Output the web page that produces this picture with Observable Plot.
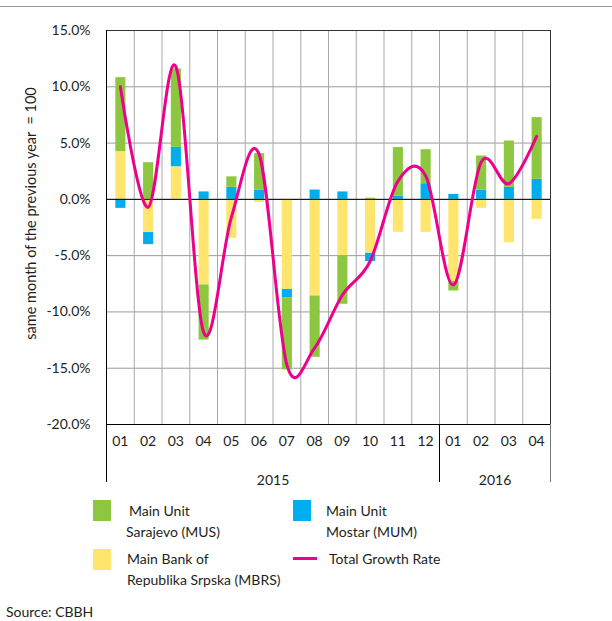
<!DOCTYPE html>
<html><head><meta charset="utf-8">
<script src="https://cdn.jsdelivr.net/npm/d3@7"></script>
<script src="https://cdn.jsdelivr.net/npm/@observablehq/plot@0.6"></script>
<style>
body{margin:0;background:#fff;font-family:Lato,sans-serif;}
#wrap{position:relative;width:612px;height:621px;overflow:hidden;background:#fff;}
#topline{position:absolute;left:0;top:6px;width:612px;height:0;border-top:1px solid #9a9a9a;}
#chart{position:absolute;left:0;top:0;}
.lg{position:absolute;font-size:14px;line-height:21px;color:#231f20;white-space:nowrap;}
.sw{position:absolute;width:18px;height:21px;}
.ln{position:absolute;width:24px;height:3px;}
</style></head><body>
<div id="wrap">
  <div id="topline"></div>
  <div id="chart"></div>
  <div class="sw" style="left:93px;top:500px;background:#8DC63F"></div>
  <div class="lg" style="left:129px;top:500px">Main Unit</div>
  <div class="lg" style="left:126px;top:521px">Sarajevo (MUS)</div>
  <div class="sw" style="left:293px;top:500px;background:#00AEEF"></div>
  <div class="lg" style="left:326px;top:500px">Main Unit</div>
  <div class="lg" style="left:326px;top:521px">Mostar (MUM)</div>
  <div class="sw" style="left:93px;top:549px;background:#FFE46E"></div>
  <div class="lg" style="left:127px;top:548px">Main Bank of</div>
  <div class="lg" style="left:127px;top:569px">Republika Srpska (MBRS)</div>
  <div class="ln" style="left:293px;top:557px;background:#EC008C"></div>
  <div class="lg" style="left:329px;top:548px">Total Growth Rate</div>
  <div class="lg" style="left:6px;top:601px">Source: CBBH</div>
</div>
<script>
const months = ["01","02","03","04","05","06","07","08","09","10","11","12","01","02","03","04"];
const years  = [2015,2015,2015,2015,2015,2015,2015,2015,2015,2015,2015,2015,2016,2016,2016,2016];
const mbrs  = [4.24,-2.95,2.9,-7.6,-3.46,-0.27,-8.0,-8.58,-5.0,-4.8,-2.93,-2.93,-7.3,-0.8,-3.85,-1.78];
const mum   = [-0.8,-1.07,1.72,0.66,1.07,0.83,-0.73,0.83,0.66,-0.73,0.3,1.39,0.44,0.83,1.07,1.78];
const mus   = [6.57,3.26,6.96,-4.9,0.93,3.23,-6.42,-5.45,-4.32,0.1,4.3,3.02,-0.84,3.02,4.11,5.48];
const total = [10.0,-0.7,11.8,-11.8,-1.6,4.0,-14.7,-13.2,-8.5,-5.5,1.6,2.1,-7.6,3.3,1.4,5.6];
const seriesNames = ["MBRS","MUM","MUS"];
const seriesColors = ["#FFE46E","#00AEEF","#8DC63F"];
const yTicks = [-20,-15,-10,-5,0,5,10,15];
const yLabel = "same month of the previous year  = 100";

const idx = months.map((_, i) => i);
const seriesValues = {MBRS: mbrs, MUM: mum, MUS: mus};
const rows = idx.flatMap(i => seriesNames.map(s => ({i, s, v: seriesValues[s][i]})));
const yearGroups = d3.groups(idx, i => years[i]).map(([year, is]) => ({
  year, mid: d3.mean(is), end: is[is.length - 1] + 0.5
}));
const gridX = idx.slice(1).map(i => i - 0.5);
const barHalf = 0.2;

const chart = Plot.plot({
  width: 612,
  height: 500,
  marginTop: 30,
  marginBottom: 76,
  marginLeft: 106,
  marginRight: 62,
  style: {fontFamily: "Lato, sans-serif", color: "#231f20", background: "transparent", overflow: "visible"},
  x: {type: "linear", domain: [-0.5, months.length - 0.5]},
  y: {domain: [d3.min(yTicks), d3.max(yTicks)]},
  color: {domain: seriesNames, range: seriesColors},
  marks: [
    Plot.gridY(yTicks, {stroke: "#9a9a9a", strokeOpacity: 1}),
    Plot.ruleX(gridX, {stroke: "#a8a8a8"}),
    Plot.rectY(rows, Plot.stackY({
      x: d => d.i - barHalf,
      interval: {floor: x => x, offset: x => x + 2 * barHalf},
      y: "v", fill: "s"
    })),
    Plot.frame({stroke: "#333"}),
    Plot.ruleY([0], {stroke: "#000"}),
    Plot.ruleY([d3.min(yTicks)], {stroke: "#000"}),
    Plot.ruleX([-0.5], {stroke: "#000", insetBottom: -58}),
    Plot.ruleX(yearGroups.slice(0, -1).map(g => g.end), {y1: d3.min(yTicks), y2: d3.min(yTicks), insetBottom: -58, stroke: "#000"}),
    Plot.ruleX(yearGroups.slice(-1).map(g => g.end), {y1: d3.min(yTicks), y2: d3.min(yTicks), insetBottom: -58, stroke: "#777"}),
    Plot.line(idx, {x: i => i, y: i => total[i], stroke: "#EC008C", strokeWidth: 3, curve: "cardinal", tension: 0}),
    Plot.axisY(yTicks, {tickFormat: d => d.toFixed(1) + "%", tickSize: 0, tickPadding: 16, fontSize: 14, label: null}),
    Plot.axisX(idx, {tickFormat: i => months[i], tickSize: 0, tickPadding: 12, fontSize: 14, label: null}),
    Plot.text(yearGroups, {x: "mid", frameAnchor: "bottom", dy: 56.5, text: d => String(d.year), fontSize: 14, lineAnchor: "middle"}),
    Plot.text([yLabel], {frameAnchor: "left", textAnchor: "middle", rotate: -90, dx: -75, dy: -14, text: d => d, fontSize: 14.5, lineAnchor: "middle"})
  ]
});
document.getElementById("chart").appendChild(chart);
</script>
</body></html>
